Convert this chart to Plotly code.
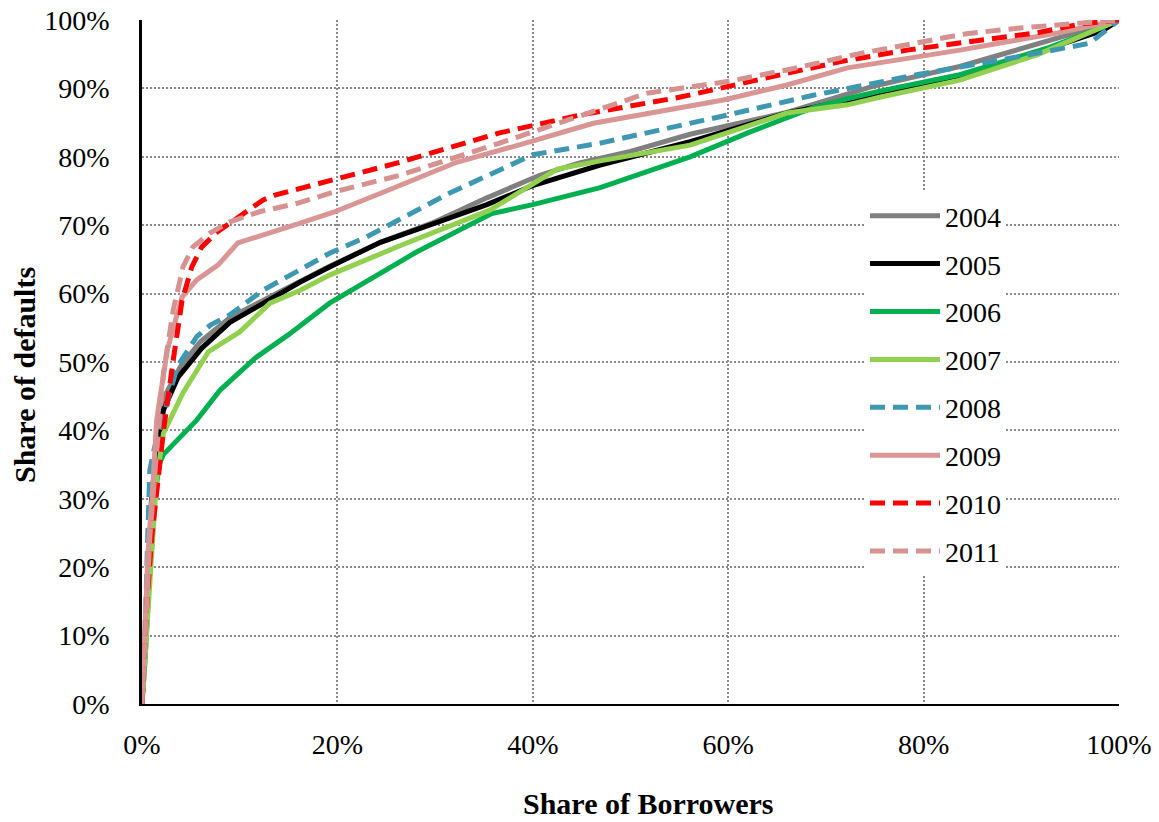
import plotly.graph_objects as go

# Cumulative share of defaults (%) against cumulative share of borrowers (%), by cohort year
years = ["2004", "2005", "2006", "2007", "2008", "2009", "2010", "2011"]

x_2004 = [0, 0.5, 1.0, 1.8, 2.5, 4.0, 6.0, 9.0, 12.4, 16.2, 19.2, 24.4, 30, 35.3, 40.7, 44.8, 50, 56.1, 66, 74.8, 83.7, 94.3, 100]
y_2004 = [0, 14, 30, 40.5, 45.5, 49.5, 53, 56.5, 59, 61.8, 64, 67.5, 70.5, 74, 77.3, 79.1, 80.8, 83.3, 86.5, 90.3, 93.2, 97.6, 100]

x_2005 = [0, 0.3, 0.6, 1.0, 1.8, 2.2, 3.7, 6.1, 9, 12.4, 16.2, 19.2, 24.4, 30, 35.3, 40, 46.9, 56.1, 66, 72.5, 75.5, 83.7, 92.2, 98.4, 100]
y_2005 = [0, 8, 16, 31, 39.6, 43, 47.8, 52, 55.8, 58.6, 61.7, 63.9, 67.5, 70.3, 73, 75.8, 78.8, 82.2, 86.4, 88.3, 89, 91.5, 95.6, 98.5, 100]

x_2006 = [0, 0.3, 0.8, 1.3, 1.8, 2.2, 5.6, 8, 11.6, 15, 19.2, 22, 28, 35.8, 40, 46.9, 56.1, 62, 68.7, 72.5, 75.5, 83.7, 92.9, 98, 100]
y_2006 = [0, 6, 20, 30.3, 35.2, 36.5, 41.5, 45.9, 50.6, 54, 58.6, 61, 66, 71.7, 73, 75.5, 80, 83.5, 87.2, 88.6, 89.6, 92, 96, 98.8, 100]

x_2007 = [0, 0.5, 1.0, 1.5, 2.2, 4.2, 6.8, 10, 13.1, 16.2, 19.2, 26.4, 35.6, 42.5, 46.9, 56.1, 66, 72.2, 75.5, 83.7, 91.6, 97.7, 100]
y_2007 = [0, 12, 24, 33, 39.6, 45.5, 51.5, 54.4, 58.6, 60.5, 62.7, 67.0, 72.2, 78.2, 79.4, 81.7, 86.4, 87.6, 88.7, 91.2, 94.9, 98.5, 100]

x_2008 = [0, 0.3, 0.6, 0.8, 1.3, 3.6, 5.6, 7, 9, 12.4, 16.2, 19.2, 23, 31.5, 40, 46.9, 59.9, 68.7, 75.5, 79.3, 88.8, 97, 100]
y_2008 = [0, 10, 25, 34.2, 37.6, 49.3, 53.7, 55.4, 56.9, 60.5, 63.5, 65.9, 68.3, 74.7, 80.3, 82, 86.1, 89, 90.9, 92, 94.4, 96.6, 100]

x_2009 = [0, 0.3, 0.6, 1.1, 1.5, 1.8, 2.6, 4.1, 5.6, 7.8, 9.8, 16.2, 19.6, 25, 32.2, 38, 46.2, 59.5, 66, 72.2, 75.5, 83.7, 93.7, 98.8, 100]
y_2009 = [0, 10, 22, 31.7, 41.5, 44.4, 51.8, 59.5, 62, 64.2, 67.4, 70.3, 71.9, 75, 79.2, 81.5, 84.9, 88.3, 90.5, 93, 93.7, 95.6, 98.1, 99.6, 100]

x_2010 = [0, 0.5, 1.0, 1.6, 2.2, 3.2, 4.1, 5.1, 6.1, 7.7, 10, 12.4, 13.6, 16.2, 20.3, 26.4, 36.6, 44.8, 55, 59.9, 65.3, 71.4, 78.3, 82.7, 87.5, 91.9, 96, 100]
y_2010 = [0, 14.8, 24.4, 31.7, 40, 50.3, 59, 63.9, 66.8, 69, 71.2, 73.7, 74.4, 75.4, 77, 79.2, 83.5, 86.1, 88.7, 90.2, 92, 93.9, 95.6, 96.5, 97.4, 98.2, 99.4, 100]

x_2011 = [0, 0.8, 1.5, 2.2, 3.2, 4.2, 5.2, 7, 9, 12.1, 15.9, 20, 26.4, 36.6, 45.9, 51.7, 59.9, 66, 73.8, 80, 84.4, 89.6, 94.3, 100]
y_2011 = [0, 24.4, 37, 48.4, 57.6, 63.9, 66.8, 68.9, 70.5, 72, 73.2, 75, 77.3, 82, 86.5, 89.3, 91, 92.7, 95.2, 96.8, 98, 98.8, 99.3, 100]

xs = [x_2004, x_2005, x_2006, x_2007, x_2008, x_2009, x_2010, x_2011]
ys = [y_2004, y_2005, y_2006, y_2007, y_2008, y_2009, y_2010, y_2011]

colors = ["#808080", "#000000", "#00B050", "#92D050", "#3F98B2", "#D99694", "#FF0000", "#D59290"]
dashes = ["solid", "solid", "solid", "solid", "15px,8px", "solid", "15px,8px", "15px,8px"]

tick_vals = [0, 10, 20, 30, 40, 50, 60, 70, 80, 90, 100]
x_tick_vals = [0, 20, 40, 60, 80, 100]

FONT = "Palatino Linotype, Book Antiqua, Liberation Serif, serif"

fig = go.Figure()
for yr, xv, yv, c, d in zip(years, xs, ys, colors, dashes):
    fig.add_trace(go.Scatter(
        x=xv, y=yv, mode="lines", name=yr, legendgroup=yr,
        line=dict(color=c, width=5, dash=d),
    ))

grid = dict(showgrid=True, gridcolor="#8a8a8a", gridwidth=1.6, griddash="2px,2px")

fig.update_xaxes(
    range=[0, 100], tickvals=x_tick_vals, ticktext=[f"{v}%" for v in x_tick_vals],
    showline=True, linecolor="black", linewidth=2, zeroline=False,
    ticks="", ticklabelstandoff=14, automargin=False,
    tickfont=dict(family=FONT, size=28, color="black"), **grid,
)
fig.update_yaxes(
    range=[0, 100], tickvals=tick_vals, ticktext=[f"{v}%" for v in tick_vals],
    showline=True, linecolor="black", linewidth=2.5, zeroline=False,
    ticks="", ticklabelstandoff=24, automargin=False,
    tickfont=dict(family=FONT, size=28, color="black"), **grid,
)

fig.add_annotation(
    text="<b>Share of Borrowers</b>", xref="paper", yref="paper",
    x=(648 - 142) / 977, y=-(803 - 704) / 684, xanchor="center", yanchor="middle",
    showarrow=False, font=dict(family=FONT, size=30, color="black"),
)
fig.add_annotation(
    text="<b>Share of defaults</b>", xref="paper", yref="paper",
    x=-(142 - 24) / 977, y=(704 - 375) / 684, xanchor="center", yanchor="middle",
    textangle=-90, showarrow=False, font=dict(family=FONT, size=30, color="black"),
)

fig.update_layout(
    width=1159, height=822,
    margin=dict(l=142, r=40, t=20, b=118),
    paper_bgcolor="white", plot_bgcolor="white",
    showlegend=True,
    legend=dict(
        x=(865 - 142) / 977, y=(704 - 191) / 684, xanchor="left", yanchor="top",
        bgcolor="white", font=dict(family=FONT, size=28, color="black"),
        itemwidth=70, tracegroupgap=8.5,
    ),
)

fig.write_html("out.html")
